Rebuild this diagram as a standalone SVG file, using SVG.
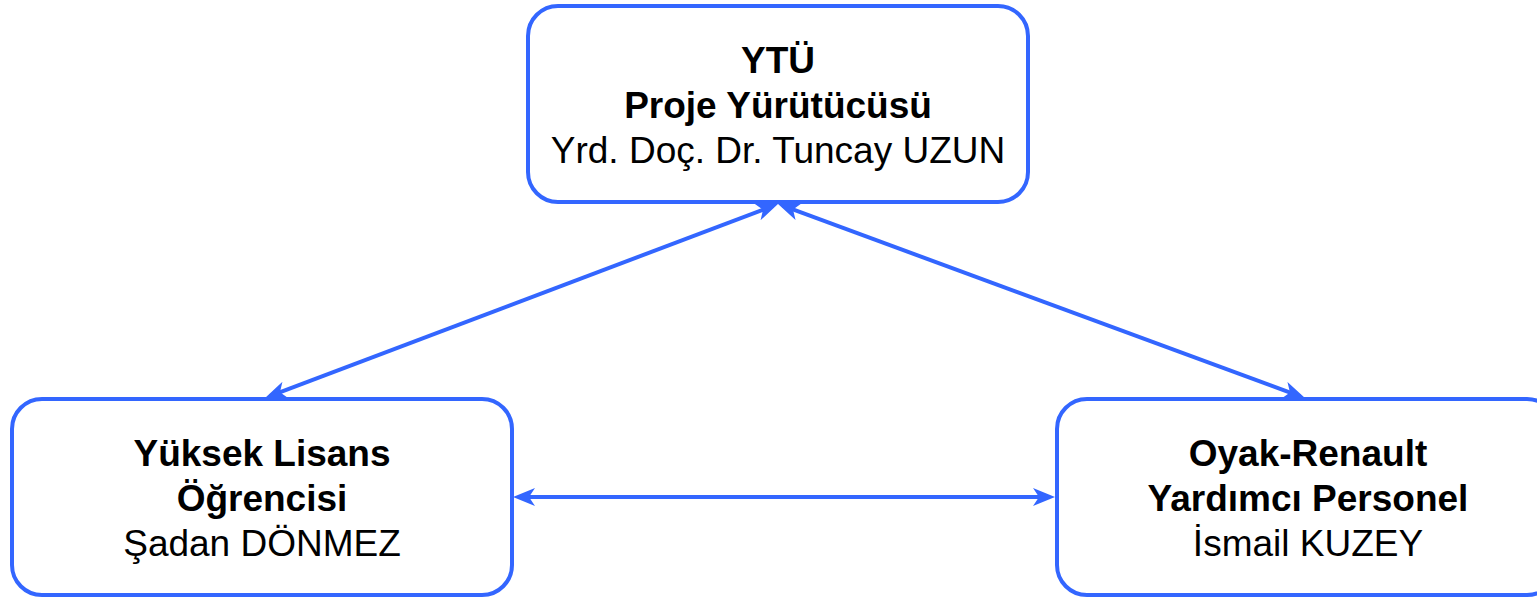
<svg xmlns="http://www.w3.org/2000/svg" width="1537" height="598" viewBox="0 0 1537 598">
<style>
.box{fill:#ffffff;stroke:#3366ff;stroke-width:4}
.t{font-family:"Liberation Sans",Arial,sans-serif;font-size:37px;fill:#000;text-anchor:middle}
.b{font-weight:bold}
.c{stroke:#3366ff;stroke-width:4;fill:none;marker-start:url(#ah);marker-end:url(#ah)}
</style>
<defs>
<marker id="ah" viewBox="0 0 22 18" refX="17" refY="9" markerWidth="22" markerHeight="18" markerUnits="userSpaceOnUse" orient="auto-start-reverse">
<path d="M0,0 L22,9 L0,18 L6,9 Z" fill="#3366ff"/>
</marker>
</defs>
<rect width="1537" height="598" fill="#ffffff"/>
<g id="connectors">
<line class="c" x1="773.3" y1="205.8" x2="269.7" y2="396.2"/>
<line class="c" x1="782.7" y1="205.7" x2="1300.3" y2="396.3"/>
<line class="c" x1="518" y1="497" x2="1050" y2="497"/>
</g>
<g id="node-ytu">
<rect class="box" x="528" y="6" width="500" height="196" rx="30"/>
<text class="t b" x="778" y="73">YTÜ</text>
<text class="t b" x="778" y="118">Proje Yürütücüsü</text>
<text class="t" x="778" y="163">Yrd. Doç. Dr. Tuncay UZUN</text>
</g>
<g id="node-ogrenci">
<rect class="box" x="12" y="399" width="500" height="196" rx="30"/>
<text class="t b" x="262" y="466">Yüksek Lisans</text>
<text class="t b" x="262" y="511">Öğrencisi</text>
<text class="t" x="262" y="556">Şadan DÖNMEZ</text>
</g>
<g id="node-oyak">
<rect class="box" x="1057" y="399" width="500" height="196" rx="30"/>
<text class="t b" x="1308" y="466">Oyak-Renault</text>
<text class="t b" x="1308" y="511">Yardımcı Personel</text>
<text class="t" x="1308" y="556">İsmail KUZEY</text>
</g>
</svg>
